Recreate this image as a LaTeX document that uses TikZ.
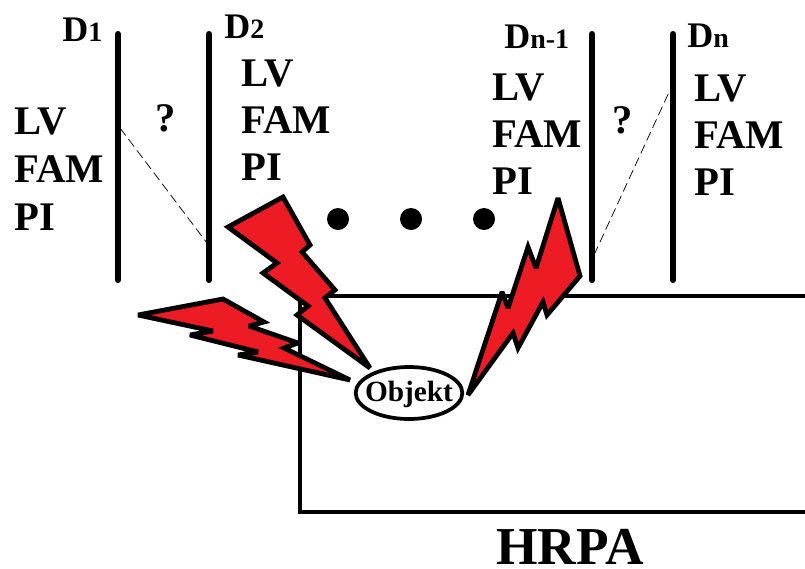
\documentclass[tikz,border=0pt]{standalone}
\usepackage{fontspec}
\usetikzlibrary{shapes.geometric}
\setmainfont{Liberation Serif}
\definecolor{boltred}{RGB}{237,28,36}
\tikzset{
  bar/.style={line width=4.6pt,line cap=round},
  bolt/.style={draw=black,fill=boltred,line width=3.6pt,line join=miter,miter limit=3},
  lbl/.style={font=\bfseries\fontsize{30.5}{35}\selectfont,anchor=base west,inner sep=0pt,align=left},
  head/.style={font=\bfseries\fontsize{27}{30}\selectfont,anchor=base west,inner sep=0pt},
  thin dash/.style={line width=0.55pt,dash pattern=on 7pt off 3.5pt},
  dot/.style={circle,fill=black,inner sep=0pt,minimum size=16.5pt},
}
\newcommand{\subt}[1]{\raisebox{-0.5pt}{\fontsize{21}{21}\selectfont #1}}
\begin{document}
\begin{tikzpicture}[x=0.75pt,y=-0.75pt]
\useasboundingbox (0,0) rectangle (805,568);
% box
\node[inner sep=0pt,anchor=base] (hrpa) at (570,564) {\bfseries\fontsize{40}{42}\selectfont HRPA};
\coordinate (r1) at (300,296); \coordinate (r2) at (805,512);
\begin{scope}
\clip (0,0) rectangle (805,568);
\draw[line width=3pt] (r1) rectangle ([xshift=20pt]r2);
\end{scope}
% bars
\foreach \n/\x in {a/118,b/209,c/592,d/673}{
  \coordinate (\n t) at (\x,34); \coordinate (\n b) at (\x,280);
  \draw[bar] (\n t) -- (\n b);
}
% dashed links
\coordinate (la) at (120,128); \coordinate (lb) at (207,243);
\coordinate (lc) at (594,255); \coordinate (ld) at (670,90);
\draw[thin dash] (la) -- (lb);
\draw[thin dash] (lc) -- (ld);
% headings
\node[head] (d1) at (62,41) {D\subt{1}};
\node[head] (d2) at (224,38) {D\subt{2}};
\node[head] (d3) at (504,48) {D\subt{n-1}};
\node[head] (d4) at (687,47) {D\subt{n}};
% labels
\node[lbl] (l1a) at (14,134) {LV};
\node[lbl] (l1b) at (14,182) {FAM};
\node[lbl] (l1c) at (14,230) {PI};
\node[lbl] (l2a) at (241,86) {LV};
\node[lbl] (l2b) at (241,133) {FAM};
\node[lbl] (l2c) at (241,180) {PI};
\node[lbl] (l3a) at (492,100) {LV};
\node[lbl] (l3b) at (492,147) {FAM};
\node[lbl] (l3c) at (492,194) {PI};
\node[lbl] (l4a) at (694,101) {LV};
\node[lbl] (l4b) at (694,148) {FAM};
\node[lbl] (l4c) at (694,195) {PI};
\node[lbl] (q1) at (155,131) {?};
\node[lbl] (q2) at (612,133) {?};
% dots
\node[dot] (p1) at (338,219) {};
\node[dot] (p2) at (411,219) {};
\node[dot] (p3) at (484,219) {};
% bolts
\draw[bolt] (283,197) -- (310,245) -- (302,252) -- (335,290) -- (325,298) -- (370,368) -- (297,315) -- (308,306) -- (263,273) -- (277,263) -- (228,227) -- cycle;
\draw[bolt] (138,315) -- (223,299) -- (264,322) -- (249,326) -- (298,343) -- (284,348) -- (350,380) -- (238,355) -- (258,352) -- (190,335) -- (213,331) -- cycle;
\draw[bolt] (558,198) -- (580,276) -- (547,315) -- (543,302) -- (518,348) -- (513,333) -- (468,395) -- (502,292) -- (508,308) -- (528,247) -- (536,268) -- cycle;
% object
\node[draw,ellipse,line width=2.8pt,fill=white,minimum width=80pt,minimum height=39pt,inner xsep=-5pt,inner ysep=0pt,text height=14pt,text depth=2pt,font=\bfseries\fontsize{22}{23}\selectfont] (obj) at (409,393) {Objekt};
\end{tikzpicture}
\end{document}
